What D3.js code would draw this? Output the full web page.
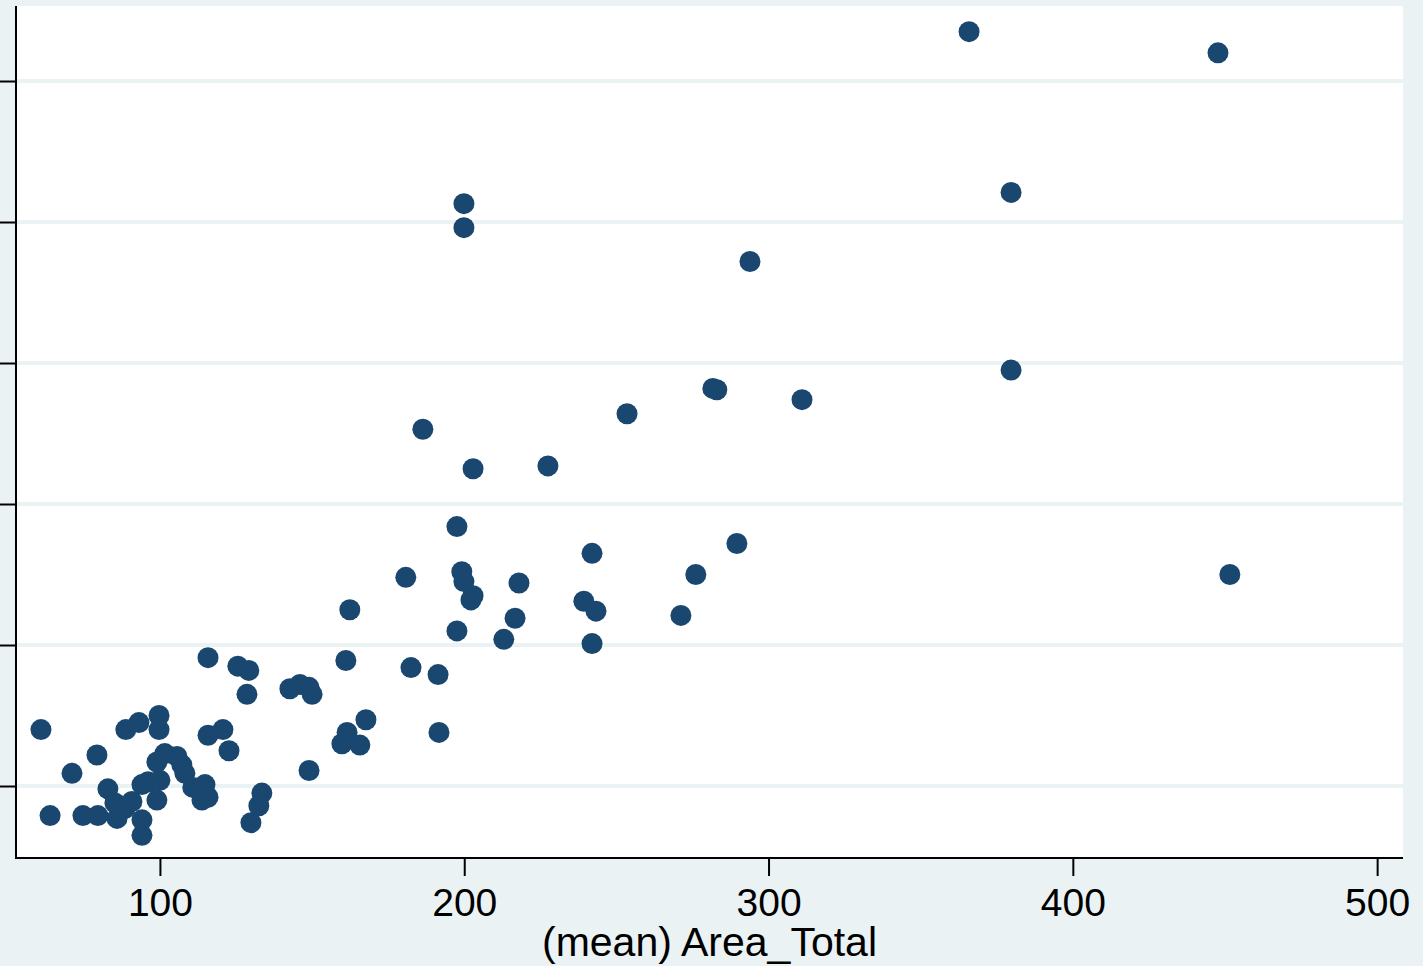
<!DOCTYPE html>
<html>
<head>
	<title>(mean) Area_Total scatter</title>
	<script src="https://d3js.org/d3.v7.min.js"></script>
	<style>
		body { margin: 0; background: #eaf2f3; }
		svg { display: block; }
		.tick-label { font-family: "Liberation Sans", Arial, sans-serif; font-size: 39px; fill: #000; }
		.axis-title { font-family: "Liberation Sans", Arial, sans-serif; font-size: 41px; fill: #000; }
	</style>
</head>
<body>
	<div id="chart"></div>

	<script type="text/javascript">
		// values (y units are arbitrary: its labels are cut off)
		var areaTotal = [
			365.9, 447.7, 379.7, 199.9, 199.9, 293.9, 379.7, 281.7, 283.0, 311.0,
			253.5, 186.4, 227.5, 202.9, 197.6, 289.6, 242.0, 180.8, 199.2, 199.9,
			218.0, 276.1, 451.6, 202.9, 202.2, 239.3, 243.3, 162.4, 216.7, 271.2,
			197.6, 213.0, 242.0, 115.8, 161.1, 125.6, 129.2, 182.5, 191.4, 142.7,
			146.0, 149.0, 150.0, 128.6, 99.7, 167.7, 60.9, 88.8, 93.1, 99.7,
			120.7, 115.8, 161.5, 159.8, 165.7, 191.7, 122.7, 79.3, 101.6, 105.6,
			107.2, 108.2, 99.0, 71.1, 149.0, 110.8, 114.8, 113.8, 115.8, 94.1,
			96.1, 100.0, 99.0, 82.9, 85.2, 88.5, 90.8, 85.9, 94.1, 94.1,
			63.9, 74.7, 79.6, 133.5, 132.5, 129.9
		];
		var yValue = [
			63.5, 62.0, 52.1, 51.3, 49.6, 47.2, 39.5, 38.2, 38.1, 37.4,
			36.4, 35.3, 32.7, 32.5, 28.4, 27.2, 26.5, 24.8, 25.2, 24.5,
			24.4, 25.0, 25.0, 23.5, 23.2, 23.1, 22.4, 22.5, 21.9, 22.1,
			21.0, 20.4, 20.1, 19.1, 18.9, 18.5, 18.2, 18.4, 17.9, 16.9,
			17.2, 17.0, 16.5, 16.5, 15.0, 14.7, 14.0, 14.0, 14.5, 14.0,
			14.0, 13.6, 13.8, 13.0, 12.9, 13.8, 12.5, 12.2, 12.3, 12.1,
			11.5, 10.9, 11.7, 10.9, 11.1, 9.9, 10.1, 9.0, 9.2, 10.1,
			10.3, 10.4, 9.0, 9.8, 8.8, 8.4, 8.9, 7.7, 7.6, 6.5,
			7.9, 7.9, 7.9, 9.5, 8.6, 7.4
		];
		var xTicks = [100, 200, 300, 400, 500];
		var yTicks = [10, 20, 30, 40, 50, 60];
		var xTitle = "(mean) Area_Total";

		var points = areaTotal.map(function(d, i){ return {x: d, y: yValue[i]}; });

		var W = 1423, H = 966;
		var plot = {left: 16, right: 1403, top: 6, bottom: 858};

		var bg = "#eaf2f3";
		var markerColor = "#1a476f";

		var svg = d3.select("#chart")
			.append("svg")
			.attr("width", W)
			.attr("height", H);

		svg.append("rect")
			.attr("width", W)
			.attr("height", H)
			.attr("fill", bg);

		svg.append("rect")
			.attr("x", plot.left)
			.attr("y", plot.top)
			.attr("width", plot.right - plot.left)
			.attr("height", plot.bottom - plot.top)
			.attr("fill", "#fff");

		var x = d3.scaleLinear()
			.domain([52.7, 508.5])
			.range([plot.left, plot.right]);

		var y = d3.scaleLinear()
			.domain([4.894, 65.32])
			.range([plot.bottom, plot.top]);

		// gridlines
		svg.append("g")
			.selectAll("line")
			.data(yTicks)
			.enter().append("line")
			.attr("x1", plot.left)
			.attr("x2", plot.right)
			.attr("y1", function(d){ return y(d); })
			.attr("y2", function(d){ return y(d); })
			.attr("stroke", bg)
			.attr("stroke-width", 4);

		// points
		svg.append("g")
			.selectAll("circle")
			.data(points)
			.enter().append("circle")
			.attr("cx", function(d){ return x(d.x); })
			.attr("cy", function(d){ return y(d.y); })
			.attr("r", 10.5)
			.attr("fill", markerColor);

		// y axis (labels fall outside the picture)
		var yAxis = svg.append("g")
			.attr("transform", "translate(" + plot.left + ",0)")
			.call(d3.axisLeft(y).tickValues(yTicks).tickSize(18).tickFormat(function(){ return ""; }));

		var xAxis = svg.append("g")
			.attr("transform", "translate(0," + plot.bottom + ")")
			.call(d3.axisBottom(x).tickValues(xTicks).tickSize(18).tickPadding(12).tickFormat(d3.format("d")));

		[yAxis, xAxis].forEach(function(ax){
			ax.select(".domain").remove();
			ax.selectAll(".tick line").attr("stroke", "#000").attr("stroke-width", 2);
		});

		xAxis.selectAll(".tick text")
			.attr("class", "tick-label")
			.attr("font-size", null)
			.attr("font-family", null);

		// axis lines
		svg.append("line")
			.attr("x1", plot.left).attr("x2", plot.left)
			.attr("y1", plot.top).attr("y2", plot.bottom + 1)
			.attr("stroke", "#000").attr("stroke-width", 2);
		svg.append("line")
			.attr("x1", plot.left).attr("x2", plot.right)
			.attr("y1", plot.bottom).attr("y2", plot.bottom)
			.attr("stroke", "#000").attr("stroke-width", 2);

		svg.append("text")
			.attr("class", "axis-title")
			.attr("x", (plot.left + plot.right) / 2)
			.attr("y", 956)
			.attr("text-anchor", "middle")
			.text(xTitle);
	</script>
</body>
</html>
